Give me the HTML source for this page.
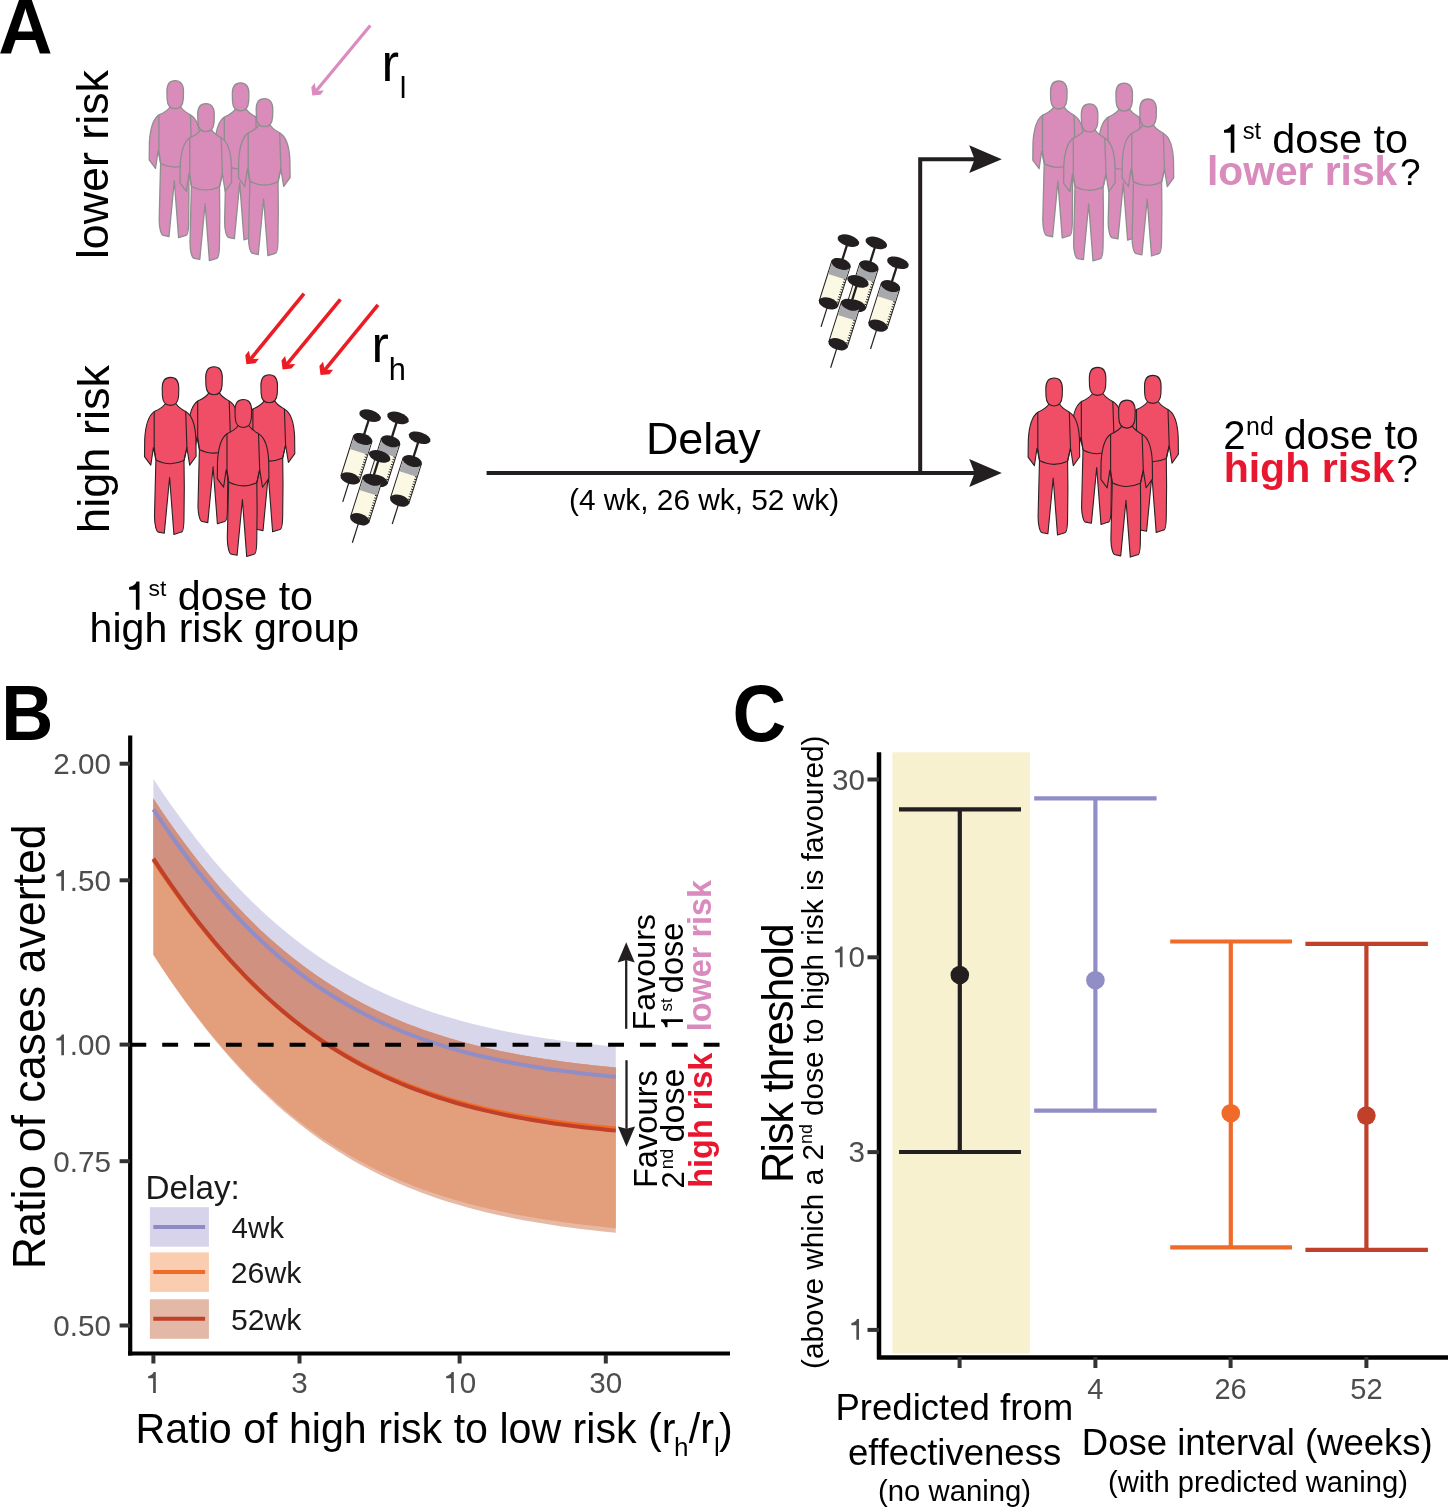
<!DOCTYPE html><html><head><meta charset="utf-8"><style>html,body{margin:0;padding:0;background:#fff;}svg{display:block;will-change:transform;}text{font-family:"Liberation Sans",sans-serif;font-kerning:none;}</style></head><body>
<svg width="1448" height="1508" viewBox="0 0 1448 1508">
<rect width="1448" height="1508" fill="#fff"/>
<defs>
<g id="person"><path d="M -5.2 26.5 C -8 30.5 -12 32.5 -16.3 34.4 C -21.5 38 -25 48 -25.8 62 L -26 79.4 L -19.7 87.9 L -17.1 70.4 L -14.6 82.8 L -15.3 110 L -16 139 C -16 148 -14 154.9 -11.8 154.9 L -6.2 156 L -0.9 100.3 L 3.4 157.2 L 10.7 154.9 C 12.5 154.9 13.5 148 13.5 139 L 13.8 110 L 13.5 83.4 L 16.4 70.4 L 19.2 87.9 L 25.6 79 L 25.4 62 C 24.8 48 21.5 38 15.2 34.4 C 12 32.5 8 30.5 5.6 26.5 Z"/><path d="M 0 0.2 C 5.2 0.2 8.3 3.8 8.3 11 L 8.1 18.5 C 7.7 24.5 4.8 28.2 0 28.2 C -4.8 28.2 -7.8 24.5 -8.1 18.5 L -8.3 11 C -8.3 3.8 -5.2 0.2 0 0.2 Z"/><path d="M -16.3 34.4 L -16.3 70.4 L -14.6 82.8 M 15.2 34.4 L 16.4 70.4 L 13.5 83.4 M -14.6 82.8 Q -1 90 13.5 83.4" fill="none"/></g>
<g id="syr"><line x1="0" y1="-24" x2="0" y2="0" stroke="#231f20" stroke-width="2.3"/><ellipse cx="0" cy="-24.5" rx="11.2" ry="5.6" fill="#231f20"/><line x1="0" y1="41" x2="0" y2="66" stroke="#231f20" stroke-width="1.2"/><rect x="-9.6" y="0" width="19.2" height="41.4" fill="#fbf9e3" stroke="#231f20" stroke-width="1"/><rect x="-9.1" y="0" width="18.2" height="13.5" fill="#a7a9ac"/><path d="M 9.5 14.0 l -2.2 0 M 9.5 16.6 l -2.2 0 M 9.5 19.2 l -2.2 0 M 9.5 21.8 l -2.2 0 M 9.5 24.4 l -2.2 0 M 9.5 27.0 l -2.2 0 M 9.5 29.6 l -2.2 0 M 9.5 32.2 l -2.2 0 M 9.5 34.8 l -2.2 0 M 9.5 37.4 l -2.2 0 " stroke="#231f20" stroke-width="0.9" fill="none"/><ellipse cx="0" cy="0" rx="10" ry="5.4" fill="#231f20"/><ellipse cx="0" cy="41.4" rx="10" ry="5.6" fill="#231f20"/></g>
</defs>
<text transform="translate(-1.87,53.70) scale(1.0000,1.0450)" font-size="75.27" font-weight="bold" fill="#000" >A</text>
<text transform="translate(107.70,259.12) rotate(-90)" font-size="44.79" font-weight="normal" fill="#000" >lower risk</text>
<text transform="translate(108.90,532.93) rotate(-90)" font-size="45.13" font-weight="normal" fill="#000" >high risk</text>
<use href="#person" transform="translate(175.2,80.5)" fill="#d98bba" stroke="#8e8e8e" stroke-width="1.3" stroke-linejoin="round"/>
<use href="#person" transform="translate(240.6,82.6)" fill="#d98bba" stroke="#8e8e8e" stroke-width="1.3" stroke-linejoin="round"/>
<use href="#person" transform="translate(206.0,103.4)" fill="#d98bba" stroke="#8e8e8e" stroke-width="1.3" stroke-linejoin="round"/>
<use href="#person" transform="translate(264.5,98.5)" fill="#d98bba" stroke="#8e8e8e" stroke-width="1.3" stroke-linejoin="round"/>
<use href="#person" transform="translate(214.0,366.6)" fill="#f04e67" stroke="#2a2223" stroke-width="1.1" stroke-linejoin="round"/>
<use href="#person" transform="translate(170.5,377.2)" fill="#f04e67" stroke="#2a2223" stroke-width="1.1" stroke-linejoin="round"/>
<use href="#person" transform="translate(269.2,374.6)" fill="#f04e67" stroke="#2a2223" stroke-width="1.1" stroke-linejoin="round"/>
<use href="#person" transform="translate(243.3,399.3)" fill="#f04e67" stroke="#2a2223" stroke-width="1.1" stroke-linejoin="round"/>
<use href="#person" transform="translate(1058.8,80.8)" fill="#d98bba" stroke="#8e8e8e" stroke-width="1.3" stroke-linejoin="round"/>
<use href="#person" transform="translate(1124.2,82.9)" fill="#d98bba" stroke="#8e8e8e" stroke-width="1.3" stroke-linejoin="round"/>
<use href="#person" transform="translate(1089.6,103.7)" fill="#d98bba" stroke="#8e8e8e" stroke-width="1.3" stroke-linejoin="round"/>
<use href="#person" transform="translate(1148.1,98.8)" fill="#d98bba" stroke="#8e8e8e" stroke-width="1.3" stroke-linejoin="round"/>
<use href="#person" transform="translate(1097.6,367.2)" fill="#f04e67" stroke="#2a2223" stroke-width="1.1" stroke-linejoin="round"/>
<use href="#person" transform="translate(1054.1,377.8)" fill="#f04e67" stroke="#2a2223" stroke-width="1.1" stroke-linejoin="round"/>
<use href="#person" transform="translate(1152.8,375.2)" fill="#f04e67" stroke="#2a2223" stroke-width="1.1" stroke-linejoin="round"/>
<use href="#person" transform="translate(1126.9,399.9)" fill="#f04e67" stroke="#2a2223" stroke-width="1.1" stroke-linejoin="round"/>
<line x1="370.3" y1="25.4" x2="316.7" y2="90.2" stroke="#db8bbd" stroke-width="3.2"/>
<polygon points="312.30,95.50 320.52,94.66 323.92,90.55 318.06,90.71 315.93,88.95 314.66,83.12 311.32,87.16" fill="#db8bbd"/>
<line x1="304.0" y1="293.7" x2="251.1" y2="358.5" stroke="#ec1c24" stroke-width="3.6"/>
<polygon points="246.40,364.30 255.33,363.32 258.99,358.83 252.62,359.05 250.30,357.15 248.87,350.83 245.27,355.25" fill="#ec1c24"/>
<line x1="340.4" y1="299.3" x2="287.4" y2="363.7" stroke="#ec1c24" stroke-width="3.6"/>
<polygon points="282.60,369.50 291.53,368.56 295.22,364.09 288.84,364.28 286.53,362.37 285.13,356.04 281.51,360.44" fill="#ec1c24"/>
<line x1="378.0" y1="304.9" x2="325.3" y2="369.3" stroke="#ec1c24" stroke-width="3.6"/>
<polygon points="320.50,375.10 329.43,374.14 333.10,369.65 326.73,369.86 324.41,367.96 323.00,361.63 319.39,366.04" fill="#ec1c24"/>
<text transform="translate(381.51,80.90)" font-size="52.60" font-weight="normal" fill="#000" >r</text>
<text transform="translate(399.78,97.90)" font-size="30.00" font-weight="normal" fill="#000" >l</text>
<text transform="translate(371.45,361.50)" font-size="52.00" font-weight="normal" fill="#000" >r</text>
<text transform="translate(388.86,380.10)" font-size="30.81" font-weight="normal" fill="#000" >h</text>
<use href="#syr" transform="translate(362.7,438.9) rotate(17.6)"/>
<use href="#syr" transform="translate(390.6,441.3) rotate(17.6)"/>
<use href="#syr" transform="translate(412.2,461.1) rotate(17.6)"/>
<use href="#syr" transform="translate(372.3,479.8) rotate(17.6)"/>
<use href="#syr" transform="translate(841.0,263.9) rotate(17.6)"/>
<use href="#syr" transform="translate(868.9,266.3) rotate(17.6)"/>
<use href="#syr" transform="translate(890.5,286.1) rotate(17.6)"/>
<use href="#syr" transform="translate(850.6,304.8) rotate(17.6)"/>
<line x1="486.6" y1="473.1" x2="976" y2="473.1" stroke="#231f20" stroke-width="4"/>
<path d="M 920.2 473.1 L 920.2 159.2 L 976 159.2" fill="none" stroke="#231f20" stroke-width="4"/>
<path d="M 1001.8 159.2 L 969.2 145.2 L 974.6 159.2 L 969.2 173.0 Z" fill="#231f20"/>
<path d="M 1001.8 473.1 L 969.2 459.1 L 974.6 473.1 L 969.2 486.90000000000003 Z" fill="#231f20"/>
<text transform="translate(645.92,454.20)" font-size="44.89" font-weight="normal" fill="#000" >Delay</text>
<text transform="translate(568.95,510.00)" font-size="29.84" font-weight="normal" fill="#000" >(4 wk, 26 wk, 52 wk)</text>
<path transform="translate(125.04,609.70) scale(40.200)" d="M 0.269 0 L 0.359 0 L 0.359 -0.703 L 0.287 -0.703 Q 0.252 -0.596 0.101 -0.566 L 0.101 -0.497 L 0.269 -0.497 Z" fill="#000"/>
<text transform="translate(148.46,595.60)" font-size="22.89" font-weight="normal" fill="#000" >st</text>
<text transform="translate(177.77,609.70)" font-size="41.24" font-weight="normal" fill="#000" >dose to</text>
<text transform="translate(89.55,642.10)" font-size="41.10" font-weight="normal" fill="#000" >high risk group</text>
<path transform="translate(1219.94,152.80) scale(40.200)" d="M 0.269 0 L 0.359 0 L 0.359 -0.703 L 0.287 -0.703 Q 0.252 -0.596 0.101 -0.566 L 0.101 -0.497 L 0.269 -0.497 Z" fill="#000"/>
<text transform="translate(1242.74,139.00)" font-size="23.70" font-weight="normal" fill="#000" >st</text>
<text transform="translate(1272.36,152.80)" font-size="41.39" font-weight="normal" fill="#000" >dose to</text>
<text transform="translate(1207.06,185.40)" font-size="40.72" font-weight="bold" fill="#d98bbd" >lower risk</text>
<text transform="translate(1399.88,185.40)" font-size="37.03" font-weight="normal" fill="#000" >?</text>
<text transform="translate(1223.18,448.90)" font-size="40.20" font-weight="normal" fill="#000" >2</text>
<text transform="translate(1246.05,435.20)" font-size="24.86" font-weight="normal" fill="#000" >nd</text>
<text transform="translate(1283.67,448.90)" font-size="41.20" font-weight="normal" fill="#000" >dose to</text>
<text transform="translate(1223.63,481.60)" font-size="41.06" font-weight="bold" fill="#e8172f" >high risk</text>
<text transform="translate(1396.43,481.60)" font-size="38.28" font-weight="normal" fill="#000" >?</text>
<text transform="translate(1.17,740.40) scale(1.0000,1.0900)" font-size="72.15" font-weight="bold" fill="#000" >B</text>
<polygon points="153.40,778.95 161.11,790.49 168.81,801.70 176.52,812.56 184.23,823.09 191.93,833.28 199.64,843.14 207.35,852.67 215.05,861.88 222.76,870.76 230.46,879.32 238.17,887.57 245.88,895.52 253.58,903.16 261.29,910.50 269.00,917.56 276.70,924.34 284.41,930.83 292.12,937.06 299.82,943.03 307.53,948.75 315.24,954.21 322.94,959.44 330.65,964.44 338.36,969.21 346.06,973.77 353.77,978.11 361.48,982.26 369.18,986.21 376.89,989.97 384.59,993.56 392.30,996.97 400.01,1000.22 407.71,1003.31 415.42,1006.24 423.13,1009.03 430.83,1011.68 438.54,1014.20 446.25,1016.59 453.95,1018.86 461.66,1021.01 469.37,1023.05 477.07,1024.99 484.78,1026.83 492.49,1028.57 500.19,1030.22 507.90,1031.78 515.61,1033.26 523.31,1034.66 531.02,1035.99 538.72,1037.25 546.43,1038.44 554.14,1039.56 561.84,1040.63 569.55,1041.63 577.26,1042.59 584.96,1043.49 592.67,1044.34 600.38,1045.15 608.08,1045.91 615.79,1046.63 615.79,1130.62 608.08,1129.89 600.38,1129.11 592.67,1128.28 584.96,1127.41 577.26,1126.49 569.55,1125.52 561.84,1124.49 554.14,1123.40 546.43,1122.25 538.72,1121.03 531.02,1119.75 523.31,1118.40 515.61,1116.96 507.90,1115.45 500.19,1113.86 492.49,1112.17 484.78,1110.40 477.07,1108.52 469.37,1106.55 461.66,1104.46 453.95,1102.27 446.25,1099.95 438.54,1097.51 430.83,1094.94 423.13,1092.24 415.42,1089.40 407.71,1086.40 400.01,1083.25 392.30,1079.94 384.59,1076.47 376.89,1072.81 369.18,1068.98 361.48,1064.95 353.77,1060.73 346.06,1056.31 338.36,1051.67 330.65,1046.81 322.94,1041.73 315.24,1036.41 307.53,1030.85 299.82,1025.04 292.12,1018.97 284.41,1012.64 276.70,1006.03 269.00,999.15 261.29,991.98 253.58,984.52 245.88,976.77 238.17,968.71 230.46,960.34 222.76,951.65 215.05,942.65 207.35,933.32 199.64,923.66 191.93,913.68 184.23,903.35 176.52,892.70 168.81,881.70 161.11,870.37 153.40,858.69" fill="#d8d6eb"/>
<polygon points="153.40,798.56 161.11,810.15 168.81,821.39 176.52,832.29 184.23,842.86 191.93,853.09 199.64,862.99 207.35,872.55 215.05,881.79 222.76,890.71 230.46,899.31 238.17,907.60 245.88,915.57 253.58,923.25 261.29,930.63 269.00,937.72 276.70,944.52 284.41,951.05 292.12,957.31 299.82,963.31 307.53,969.05 315.24,974.55 322.94,979.80 330.65,984.82 338.36,989.62 346.06,994.20 353.77,998.57 361.48,1002.74 369.18,1006.71 376.89,1010.50 384.59,1014.10 392.30,1017.53 400.01,1020.80 407.71,1023.90 415.42,1026.86 423.13,1029.66 430.83,1032.33 438.54,1034.86 446.25,1037.27 453.95,1039.55 461.66,1041.71 469.37,1043.77 477.07,1045.72 484.78,1047.56 492.49,1049.31 500.19,1050.97 507.90,1052.55 515.61,1054.03 523.31,1055.45 531.02,1056.78 538.72,1058.05 546.43,1059.24 554.14,1060.37 561.84,1061.45 569.55,1062.46 577.26,1063.42 584.96,1064.33 592.67,1065.19 600.38,1066.00 608.08,1066.77 615.79,1067.49 615.79,1232.73 608.08,1231.97 600.38,1231.17 592.67,1230.32 584.96,1229.42 577.26,1228.47 569.55,1227.47 561.84,1226.41 554.14,1225.29 546.43,1224.10 538.72,1222.85 531.02,1221.53 523.31,1220.13 515.61,1218.66 507.90,1217.10 500.19,1215.46 492.49,1213.73 484.78,1211.90 477.07,1209.97 469.37,1207.94 461.66,1205.80 453.95,1203.54 446.25,1201.16 438.54,1198.65 430.83,1196.01 423.13,1193.23 415.42,1190.31 407.71,1187.23 400.01,1184.00 392.30,1180.60 384.59,1177.03 376.89,1173.28 369.18,1169.35 361.48,1165.22 353.77,1160.89 346.06,1156.35 338.36,1151.60 330.65,1146.62 322.94,1141.41 315.24,1135.96 307.53,1130.27 299.82,1124.32 292.12,1118.11 284.41,1111.64 276.70,1104.88 269.00,1097.85 261.29,1090.53 253.58,1082.91 245.88,1074.99 238.17,1066.77 230.46,1058.23 222.76,1049.37 215.05,1040.20 207.35,1030.69 199.64,1020.86 191.93,1010.70 184.23,1000.20 176.52,989.36 168.81,978.18 161.11,966.67 153.40,954.81" fill="#e7b8a4"/>
<polygon points="153.40,798.56 161.11,810.15 168.81,821.39 176.52,832.29 184.23,842.86 191.93,853.09 199.64,862.99 207.35,872.55 215.05,881.79 222.76,890.71 230.46,899.31 238.17,907.60 245.88,915.57 253.58,923.25 261.29,930.63 269.00,937.72 276.70,944.52 284.41,951.05 292.12,957.31 299.82,963.31 307.53,969.05 315.24,974.55 322.94,979.80 330.65,984.82 338.36,989.62 346.06,994.20 353.77,998.57 361.48,1002.74 369.18,1006.71 376.89,1010.50 384.59,1014.10 392.30,1017.53 400.01,1020.80 407.71,1023.90 415.42,1026.86 423.13,1029.66 430.83,1032.33 438.54,1034.86 446.25,1037.27 453.95,1039.55 461.66,1041.71 469.37,1043.77 477.07,1045.72 484.78,1047.56 492.49,1049.31 500.19,1050.97 507.90,1052.55 515.61,1054.03 523.31,1055.45 531.02,1056.78 538.72,1058.05 546.43,1059.24 554.14,1060.37 561.84,1061.45 569.55,1062.46 577.26,1063.42 584.96,1064.33 592.67,1065.19 600.38,1066.00 608.08,1066.77 615.79,1067.49 615.79,1228.13 608.08,1227.39 600.38,1226.60 592.67,1225.78 584.96,1224.90 577.26,1223.97 569.55,1222.99 561.84,1221.95 554.14,1220.86 546.43,1219.70 538.72,1218.48 531.02,1217.18 523.31,1215.82 515.61,1214.38 507.90,1212.86 500.19,1211.25 492.49,1209.55 484.78,1207.77 477.07,1205.88 469.37,1203.89 461.66,1201.79 453.95,1199.58 446.25,1197.25 438.54,1194.80 430.83,1192.21 423.13,1189.49 415.42,1186.63 407.71,1183.62 400.01,1180.45 392.30,1177.12 384.59,1173.62 376.89,1169.94 369.18,1166.08 361.48,1162.04 353.77,1157.79 346.06,1153.34 338.36,1148.67 330.65,1143.79 322.94,1138.67 315.24,1133.33 307.53,1127.73 299.82,1121.89 292.12,1115.79 284.41,1109.43 276.70,1102.79 269.00,1095.87 261.29,1088.67 253.58,1081.17 245.88,1073.38 238.17,1065.28 230.46,1056.87 222.76,1048.14 215.05,1039.10 207.35,1029.73 199.64,1020.03 191.93,1010.00 184.23,999.64 176.52,988.94 168.81,977.90 161.11,966.53 153.40,954.81" fill="#e39e7c"/>
<polygon points="153.40,798.56 161.11,810.15 168.81,821.39 176.52,832.29 184.23,842.86 191.93,853.09 199.64,862.99 207.35,872.55 215.05,881.79 222.76,890.71 230.46,899.31 238.17,907.60 245.88,915.57 253.58,923.25 261.29,930.63 269.00,937.72 276.70,944.52 284.41,951.05 292.12,957.31 299.82,963.31 307.53,969.05 315.24,974.55 322.94,979.80 330.65,984.82 338.36,989.62 346.06,994.20 353.77,998.57 361.48,1002.74 369.18,1006.71 376.89,1010.50 384.59,1014.10 392.30,1017.53 400.01,1020.80 407.71,1023.90 415.42,1026.86 423.13,1029.66 430.83,1032.33 438.54,1034.86 446.25,1037.27 453.95,1039.55 461.66,1041.71 469.37,1043.77 477.07,1045.72 484.78,1047.56 492.49,1049.31 500.19,1050.97 507.90,1052.55 515.61,1054.03 523.31,1055.45 531.02,1056.78 538.72,1058.05 546.43,1059.24 554.14,1060.37 561.84,1061.45 569.55,1062.46 577.26,1063.42 584.96,1064.33 592.67,1065.19 600.38,1066.00 608.08,1066.77 615.79,1067.49 615.79,1130.62 608.08,1129.89 600.38,1129.11 592.67,1128.28 584.96,1127.41 577.26,1126.49 569.55,1125.52 561.84,1124.49 554.14,1123.40 546.43,1122.25 538.72,1121.03 531.02,1119.75 523.31,1118.40 515.61,1116.96 507.90,1115.45 500.19,1113.86 492.49,1112.17 484.78,1110.40 477.07,1108.52 469.37,1106.55 461.66,1104.46 453.95,1102.27 446.25,1099.95 438.54,1097.51 430.83,1094.94 423.13,1092.24 415.42,1089.40 407.71,1086.40 400.01,1083.25 392.30,1079.94 384.59,1076.47 376.89,1072.81 369.18,1068.98 361.48,1064.95 353.77,1060.73 346.06,1056.31 338.36,1051.67 330.65,1046.81 322.94,1041.73 315.24,1036.41 307.53,1030.85 299.82,1025.04 292.12,1018.97 284.41,1012.64 276.70,1006.03 269.00,999.15 261.29,991.98 253.58,984.52 245.88,976.77 238.17,968.71 230.46,960.34 222.76,951.65 215.05,942.65 207.35,933.32 199.64,923.66 191.93,913.68 184.23,903.35 176.52,892.70 168.81,881.70 161.11,870.37 153.40,858.69" fill="#d09181"/>
<polyline points="153.40,859.98 161.11,871.55 168.81,882.78 176.52,893.67 184.23,904.22 191.93,914.44 199.64,924.33 207.35,933.88 215.05,943.11 222.76,952.02 230.46,960.61 238.17,968.88 245.88,976.85 253.58,984.52 261.29,991.88 269.00,998.96 276.70,1005.76 284.41,1012.28 292.12,1018.53 299.82,1024.52 307.53,1030.25 315.24,1035.74 322.94,1040.99 330.65,1046.00 338.36,1050.79 346.06,1055.36 353.77,1059.72 361.48,1063.89 369.18,1067.85 376.89,1071.63 384.59,1075.23 392.30,1078.65 400.01,1081.91 407.71,1085.01 415.42,1087.96 423.13,1090.76 430.83,1093.42 438.54,1095.95 446.25,1098.35 453.95,1100.63 461.66,1102.79 469.37,1104.84 477.07,1106.79 484.78,1108.63 492.49,1110.38 500.19,1112.03 507.90,1113.60 515.61,1115.09 523.31,1116.50 531.02,1117.83 538.72,1119.09 546.43,1120.29 554.14,1121.42 561.84,1122.49 569.55,1123.50 577.26,1124.46 584.96,1125.36 592.67,1126.22 600.38,1127.03 608.08,1127.80 615.79,1128.52" fill="none" stroke="#f26b21" stroke-width="4"/>
<polyline points="153.40,858.69 161.11,870.37 168.81,881.70 176.52,892.70 184.23,903.35 191.93,913.68 199.64,923.66 207.35,933.32 215.05,942.65 222.76,951.65 230.46,960.34 238.17,968.71 245.88,976.77 253.58,984.52 261.29,991.98 269.00,999.15 276.70,1006.03 284.41,1012.64 292.12,1018.97 299.82,1025.04 307.53,1030.85 315.24,1036.41 322.94,1041.73 330.65,1046.81 338.36,1051.67 346.06,1056.31 353.77,1060.73 361.48,1064.95 369.18,1068.98 376.89,1072.81 384.59,1076.47 392.30,1079.94 400.01,1083.25 407.71,1086.40 415.42,1089.40 423.13,1092.24 430.83,1094.94 438.54,1097.51 446.25,1099.95 453.95,1102.27 461.66,1104.46 469.37,1106.55 477.07,1108.52 484.78,1110.40 492.49,1112.17 500.19,1113.86 507.90,1115.45 515.61,1116.96 523.31,1118.40 531.02,1119.75 538.72,1121.03 546.43,1122.25 554.14,1123.40 561.84,1124.49 569.55,1125.52 577.26,1126.49 584.96,1127.41 592.67,1128.28 600.38,1129.11 608.08,1129.89 615.79,1130.62" fill="none" stroke="#c0402a" stroke-width="4"/>
<polyline points="153.40,809.40 161.11,820.94 168.81,832.13 176.52,842.99 184.23,853.51 191.93,863.70 199.64,873.55 207.35,883.07 215.05,892.27 222.76,901.14 230.46,909.70 238.17,917.94 245.88,925.88 253.58,933.52 261.29,940.86 269.00,947.91 276.70,954.68 284.41,961.17 292.12,967.39 299.82,973.35 307.53,979.06 315.24,984.53 322.94,989.75 330.65,994.74 338.36,999.51 346.06,1004.06 353.77,1008.40 361.48,1012.54 369.18,1016.49 376.89,1020.25 384.59,1023.83 392.30,1027.24 400.01,1030.48 407.71,1033.57 415.42,1036.50 423.13,1039.29 430.83,1041.93 438.54,1044.45 446.25,1046.84 453.95,1049.10 461.66,1051.25 469.37,1053.29 477.07,1055.23 484.78,1057.06 492.49,1058.80 500.19,1060.45 507.90,1062.01 515.61,1063.49 523.31,1064.89 531.02,1066.21 538.72,1067.47 546.43,1068.66 554.14,1069.78 561.84,1070.84 569.55,1071.85 577.26,1072.80 584.96,1073.70 592.67,1074.56 600.38,1075.36 608.08,1076.12 615.79,1076.84" fill="none" stroke="#918dc6" stroke-width="4"/>
<line x1="132" y1="1044.8" x2="720.5" y2="1044.8" stroke="#000" stroke-width="4.1" stroke-dasharray="15.9 15.95" stroke-dashoffset="1.65"/>
<line x1="130.2" y1="735.6" x2="130.2" y2="1355.6" stroke="#000" stroke-width="4.2"/>
<line x1="128.1" y1="1353.5" x2="730" y2="1353.5" stroke="#000" stroke-width="4.2"/>
<line x1="119.6" y1="763.7" x2="130" y2="763.7" stroke="#333" stroke-width="4"/>
<text x="53.35" y="774.27" font-size="29.6" fill="#4d4d4d">2</text>
<text x="69.81" y="774.27" font-size="29.6" fill="#4d4d4d">.</text>
<text x="78.04" y="774.27" font-size="29.6" fill="#4d4d4d">0</text>
<text x="94.49" y="774.27" font-size="29.6" fill="#4d4d4d">0</text>
<line x1="119.6" y1="880.3" x2="130" y2="880.3" stroke="#333" stroke-width="4"/>
<path transform="translate(53.35,890.86) scale(29.600)" d="M 0.269 0 L 0.359 0 L 0.359 -0.703 L 0.287 -0.703 Q 0.252 -0.596 0.101 -0.566 L 0.101 -0.497 L 0.269 -0.497 Z" fill="#4d4d4d"/>
<text x="69.81" y="890.86" font-size="29.6" fill="#4d4d4d">.</text>
<text x="78.04" y="890.86" font-size="29.6" fill="#4d4d4d">5</text>
<text x="94.49" y="890.86" font-size="29.6" fill="#4d4d4d">0</text>
<line x1="119.6" y1="1044.6" x2="130" y2="1044.6" stroke="#333" stroke-width="4"/>
<path transform="translate(53.35,1055.20) scale(29.600)" d="M 0.269 0 L 0.359 0 L 0.359 -0.703 L 0.287 -0.703 Q 0.252 -0.596 0.101 -0.566 L 0.101 -0.497 L 0.269 -0.497 Z" fill="#4d4d4d"/>
<text x="69.81" y="1055.20" font-size="29.6" fill="#4d4d4d">.</text>
<text x="78.04" y="1055.20" font-size="29.6" fill="#4d4d4d">0</text>
<text x="94.49" y="1055.20" font-size="29.6" fill="#4d4d4d">0</text>
<line x1="119.6" y1="1161.2" x2="130" y2="1161.2" stroke="#333" stroke-width="4"/>
<text x="53.35" y="1171.80" font-size="29.6" fill="#4d4d4d">0</text>
<text x="69.81" y="1171.80" font-size="29.6" fill="#4d4d4d">.</text>
<text x="78.04" y="1171.80" font-size="29.6" fill="#4d4d4d">7</text>
<text x="94.49" y="1171.80" font-size="29.6" fill="#4d4d4d">5</text>
<line x1="119.6" y1="1325.5" x2="130" y2="1325.5" stroke="#333" stroke-width="4"/>
<text x="53.35" y="1336.13" font-size="29.6" fill="#4d4d4d">0</text>
<text x="69.81" y="1336.13" font-size="29.6" fill="#4d4d4d">.</text>
<text x="78.04" y="1336.13" font-size="29.6" fill="#4d4d4d">5</text>
<text x="94.49" y="1336.13" font-size="29.6" fill="#4d4d4d">0</text>
<line x1="153.4" y1="1355" x2="153.4" y2="1363.5" stroke="#333" stroke-width="4"/>
<path transform="translate(145.17,1392.90) scale(29.600)" d="M 0.269 0 L 0.359 0 L 0.359 -0.703 L 0.287 -0.703 Q 0.252 -0.596 0.101 -0.566 L 0.101 -0.497 L 0.269 -0.497 Z" fill="#4d4d4d"/>
<line x1="299.5" y1="1355" x2="299.5" y2="1363.5" stroke="#333" stroke-width="4"/>
<text x="291.29" y="1392.90" font-size="29.6" fill="#4d4d4d">3</text>
<line x1="459.6" y1="1355" x2="459.6" y2="1363.5" stroke="#333" stroke-width="4"/>
<path transform="translate(443.19,1392.90) scale(29.600)" d="M 0.269 0 L 0.359 0 L 0.359 -0.703 L 0.287 -0.703 Q 0.252 -0.596 0.101 -0.566 L 0.101 -0.497 L 0.269 -0.497 Z" fill="#4d4d4d"/>
<text x="459.64" y="1392.90" font-size="29.6" fill="#4d4d4d">0</text>
<line x1="605.8" y1="1355" x2="605.8" y2="1363.5" stroke="#333" stroke-width="4"/>
<text x="589.30" y="1392.90" font-size="29.6" fill="#4d4d4d">3</text>
<text x="605.76" y="1392.90" font-size="29.6" fill="#4d4d4d">0</text>
<text transform="translate(45.20,1269.17) rotate(-90) scale(1.0000,1.0300)" font-size="44.73" font-weight="normal" fill="#000" >Ratio of cases averted</text>
<text transform="translate(135.62,1443.10) scale(1.0000,1.0200)" font-size="41.18" font-weight="normal" fill="#000" >Ratio of high risk to low risk (r</text>
<text transform="translate(674.09,1456.20)" font-size="26.07" font-weight="normal" fill="#000" >h</text>
<text transform="translate(688.80,1443.10) scale(1.0000,1.0200)" font-size="41.18" font-weight="normal" fill="#000" >/r</text>
<text transform="translate(714.05,1456.20)" font-size="26.00" font-weight="normal" fill="#000" >l</text>
<text transform="translate(719.06,1443.10) scale(1.0000,1.0200)" font-size="41.18" font-weight="normal" fill="#000" >)</text>
<text transform="translate(145.58,1198.90)" font-size="33.22" font-weight="normal" fill="#1a1a1a" >Delay:</text>
<rect x="149.9" y="1207.2" width="59" height="39.5" fill="#d6d3ea"/>
<line x1="153.3" y1="1227.0" x2="205.1" y2="1227.0" stroke="#8f89c4" stroke-width="4"/>
<text transform="translate(231.62,1237.80)" font-size="29.48" font-weight="normal" fill="#1a1a1a" >4wk</text>
<rect x="149.9" y="1252.4" width="59" height="39.5" fill="#fbcdb0"/>
<line x1="153.3" y1="1272.1" x2="205.1" y2="1272.1" stroke="#f06a2a" stroke-width="4"/>
<text transform="translate(230.78,1283.10)" font-size="30.28" font-weight="normal" fill="#1a1a1a" >26wk</text>
<rect x="149.9" y="1299.3" width="59" height="39.5" fill="#e4b8a6"/>
<line x1="153.3" y1="1318.8" x2="205.1" y2="1318.8" stroke="#c0402a" stroke-width="4"/>
<text transform="translate(231.09,1330.00)" font-size="30.14" font-weight="normal" fill="#1a1a1a" >52wk</text>
<line x1="626.2" y1="1028.8" x2="626.2" y2="960.1" stroke="#231f20" stroke-width="2.3"/>
<path d="M 626.2 942.2 L 617.6 962.5 L 626.2 960.1 L 634.8000000000001 962.5 Z" fill="#231f20"/>
<line x1="626.5" y1="1060.2" x2="626.5" y2="1128.8" stroke="#231f20" stroke-width="2.3"/>
<path d="M 626.5 1146.7 L 617.9 1126.4 L 626.5 1128.8 L 635.1 1126.4 Z" fill="#231f20"/>
<text transform="translate(655.20,1030.55) rotate(-90)" font-size="32.28" font-weight="normal" fill="#000" >Favours</text>
<path transform="translate(682.90,1030.43) rotate(-90) scale(31.000)" d="M 0.269 0 L 0.359 0 L 0.359 -0.703 L 0.287 -0.703 Q 0.252 -0.596 0.101 -0.566 L 0.101 -0.497 L 0.269 -0.497 Z" fill="#000"/>
<text transform="translate(672.20,1011.47) rotate(-90)" font-size="16.83" font-weight="normal" fill="#000" >st</text>
<text transform="translate(682.90,993.17) rotate(-90)" font-size="32.52" font-weight="normal" fill="#000" >dose</text>
<text transform="translate(711.10,1031.26) rotate(-90)" font-size="32.41" font-weight="bold" fill="#d98bbd" >lower risk</text>
<text transform="translate(656.80,1188.08) rotate(-90)" font-size="32.65" font-weight="normal" fill="#000" >Favours</text>
<text transform="translate(683.80,1188.56) rotate(-90)" font-size="31.00" font-weight="normal" fill="#000" >2</text>
<text transform="translate(673.00,1169.23) rotate(-90)" font-size="18.50" font-weight="normal" fill="#000" >nd</text>
<text transform="translate(683.80,1142.43) rotate(-90)" font-size="34.01" font-weight="normal" fill="#000" >dose</text>
<text transform="translate(712.00,1187.66) rotate(-90)" font-size="32.38" font-weight="bold" fill="#e8172f" >high risk</text>
<text transform="translate(732.45,741.20) scale(1.0000,1.0700)" font-size="74.33" font-weight="bold" fill="#000" >C</text>
<rect x="892.4" y="752.3" width="137.5" height="601.1" fill="#f8f1cf"/>
<line x1="879" y1="752.3" x2="879" y2="1359" stroke="#000" stroke-width="4.5"/>
<line x1="877" y1="1357.5" x2="1448" y2="1357.5" stroke="#000" stroke-width="4.6"/>
<line x1="867.5" y1="779.5" x2="879" y2="779.5" stroke="#333" stroke-width="4"/>
<text x="831.94" y="789.54" font-size="29.6" fill="#4d4d4d">3</text>
<text x="848.39" y="789.54" font-size="29.6" fill="#4d4d4d">0</text>
<line x1="867.5" y1="957.3" x2="879" y2="957.3" stroke="#333" stroke-width="4"/>
<path transform="translate(831.94,967.30) scale(29.600)" d="M 0.269 0 L 0.359 0 L 0.359 -0.703 L 0.287 -0.703 Q 0.252 -0.596 0.101 -0.566 L 0.101 -0.497 L 0.269 -0.497 Z" fill="#4d4d4d"/>
<text x="848.39" y="967.30" font-size="29.6" fill="#4d4d4d">0</text>
<line x1="867.5" y1="1152.1" x2="879" y2="1152.1" stroke="#333" stroke-width="4"/>
<text x="848.39" y="1162.10" font-size="29.6" fill="#4d4d4d">3</text>
<line x1="867.5" y1="1329.9" x2="879" y2="1329.9" stroke="#333" stroke-width="4"/>
<path transform="translate(848.39,1339.86) scale(29.600)" d="M 0.269 0 L 0.359 0 L 0.359 -0.703 L 0.287 -0.703 Q 0.252 -0.596 0.101 -0.566 L 0.101 -0.497 L 0.269 -0.497 Z" fill="#4d4d4d"/>
<line x1="959.6" y1="1357" x2="959.6" y2="1368" stroke="#333" stroke-width="4"/>
<line x1="1095.4" y1="1357" x2="1095.4" y2="1368" stroke="#333" stroke-width="4"/>
<text x="1095.4" y="1399.2" font-size="29" fill="#4d4d4d" text-anchor="middle">4</text>
<line x1="1230.6" y1="1357" x2="1230.6" y2="1368" stroke="#333" stroke-width="4"/>
<text x="1230.6" y="1399.2" font-size="29" fill="#4d4d4d" text-anchor="middle">26</text>
<line x1="1366.4" y1="1357" x2="1366.4" y2="1368" stroke="#333" stroke-width="4"/>
<text x="1366.4" y="1399.2" font-size="29" fill="#4d4d4d" text-anchor="middle">52</text>
<line x1="959.8" y1="809.3" x2="959.8" y2="1152.0" stroke="#231f20" stroke-width="4.2"/>
<line x1="899.0" y1="809.3" x2="1021.0" y2="809.3" stroke="#231f20" stroke-width="4.2"/>
<line x1="899.0" y1="1152.0" x2="1021.0" y2="1152.0" stroke="#231f20" stroke-width="4.2"/>
<circle cx="959.8" cy="975.0" r="9.3" fill="#231f20"/>
<line x1="1095.4" y1="798.4" x2="1095.4" y2="1110.6" stroke="#918dc6" stroke-width="4.2"/>
<line x1="1034.2" y1="798.4" x2="1156.6" y2="798.4" stroke="#918dc6" stroke-width="4.2"/>
<line x1="1034.2" y1="1110.6" x2="1156.6" y2="1110.6" stroke="#918dc6" stroke-width="4.2"/>
<circle cx="1095.4" cy="980.2" r="9.3" fill="#918dc6"/>
<line x1="1230.8" y1="941.5" x2="1230.8" y2="1247.4" stroke="#f06a2a" stroke-width="4.2"/>
<line x1="1170.2" y1="941.5" x2="1292.0" y2="941.5" stroke="#f06a2a" stroke-width="4.2"/>
<line x1="1170.2" y1="1247.4" x2="1292.0" y2="1247.4" stroke="#f06a2a" stroke-width="4.2"/>
<circle cx="1230.8" cy="1113.2" r="9.3" fill="#f06a2a"/>
<line x1="1366.4" y1="943.9" x2="1366.4" y2="1249.8" stroke="#c0402a" stroke-width="4.2"/>
<line x1="1305.4" y1="943.9" x2="1427.9" y2="943.9" stroke="#c0402a" stroke-width="4.2"/>
<line x1="1305.4" y1="1249.8" x2="1427.9" y2="1249.8" stroke="#c0402a" stroke-width="4.2"/>
<circle cx="1366.4" cy="1115.6" r="9.3" fill="#c0402a"/>
<text transform="translate(792.80,1182.97) rotate(-90)" font-size="43.50" font-weight="normal" fill="#000"  letter-spacing="-1.219">Risk threshold</text>
<text transform="translate(822.8,1367.1) rotate(-90)" font-size="29.75" fill="#000"><tspan x="-1.8">(above which a 2</tspan><tspan font-size="17.8" dy="-11.3">nd</tspan><tspan dy="11.3"> dose to high risk is favoured)</tspan></text>
<text transform="translate(835.40,1419.50)" font-size="36.57" font-weight="normal" fill="#000" >Predicted from</text>
<text transform="translate(848.05,1464.80)" font-size="36.52" font-weight="normal" fill="#000" >effectiveness</text>
<text transform="translate(878.08,1500.90)" font-size="29.29" font-weight="normal" fill="#000" >(no waning)</text>
<text transform="translate(1081.81,1454.80) scale(1.0000,1.0200)" font-size="36.50" font-weight="normal" fill="#000" >Dose interval (weeks)</text>
<text transform="translate(1108.09,1491.90)" font-size="29.17" font-weight="normal" fill="#000" >(with predicted waning)</text>
</svg></body></html>
